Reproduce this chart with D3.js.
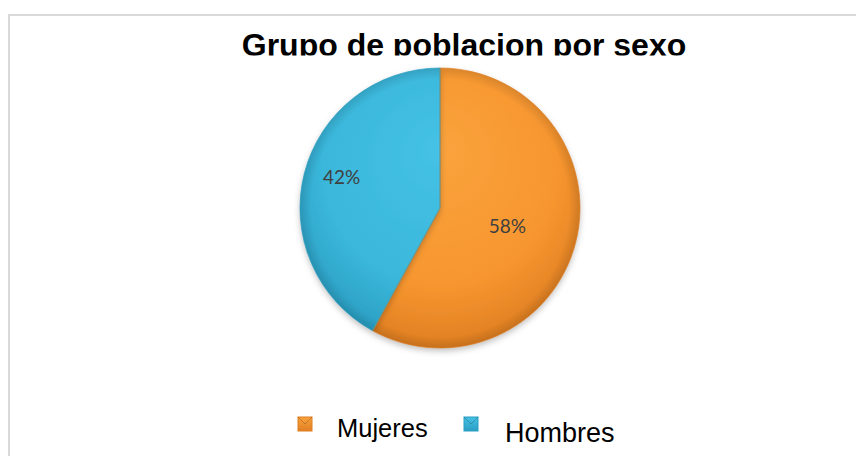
<!DOCTYPE html>
<html><head><meta charset="utf-8">
<script src="https://cdn.jsdelivr.net/npm/d3@7"></script>
<style>html,body{margin:0;padding:0;background:#fff;}svg{display:block;}</style>
</head><body>
<svg id="c" width="856" height="456"></svg>
<script>
const categories = ["Mujeres", "Hombres"];
const values = [58, 42];
const labels = ["58%", "42%"];
const colorsMain = ["#F7962F", "#3AB7DB"];
const colorsDark = ["#E07F22", "#2A9EC2"];
const colorsLight = ["#FAA33D", "#45C2E6"];
const title = "Grupo de poblacion por sexo";

const svg = d3.select("#c");
const W = 856, H = 456;
const defs = svg.append("defs");

svg.append("path").attr("d", "M9,456 L9,15 L856,15").attr("fill", "none")
  .attr("stroke", "#d9d9d9").attr("stroke-width", 2);

defs.append("clipPath").attr("id", "tclip").append("rect")
  .attr("x", 0).attr("y", 0).attr("width", W).attr("height", 55.5);
svg.append("text").attr("clip-path", "url(#tclip)")
  .attr("x", 464).attr("y", 56).attr("text-anchor", "middle")
  .attr("font-family", "Liberation Sans, Arial, sans-serif").attr("font-weight", "bold")
  .attr("font-size", 32).attr("fill", "#000").text(title);

const cx = 440, cy = 208, r = 140;
const pie = d3.pie().sort(null).value(d => d)(values);
const arc = d3.arc().innerRadius(0).outerRadius(r);

categories.forEach((c, i) => {
  const g = defs.append("radialGradient").attr("id", "g" + i)
    .attr("gradientUnits", "userSpaceOnUse").attr("cx", 0).attr("cy", -30).attr("r", r * 1.2)
    .attr("fx", 0).attr("fy", -60);
  g.append("stop").attr("offset", "0%").attr("stop-color", colorsLight[i]);
  g.append("stop").attr("offset", "70%").attr("stop-color", colorsMain[i]);
  g.append("stop").attr("offset", "100%").attr("stop-color", colorsDark[i]);
});

const eg = defs.append("radialGradient").attr("id", "edge")
  .attr("gradientUnits", "userSpaceOnUse").attr("cx", 0).attr("cy", 0).attr("r", r);
eg.append("stop").attr("offset", "92%").attr("stop-color", "#000").attr("stop-opacity", 0);
eg.append("stop").attr("offset", "100%").attr("stop-color", "#000").attr("stop-opacity", 0.12);

defs.append("filter").attr("id", "sh").attr("x", "-20%").attr("y", "-20%").attr("width", "140%").attr("height", "140%")
  .append("feDropShadow").attr("dx", 0).attr("dy", 3).attr("stdDeviation", 3).attr("flood-opacity", 0.25);

const pg = svg.append("g").attr("transform", `translate(${cx},${cy})`);
pg.selectAll("path.s").data(pie).join("path").attr("class", "s")
  .attr("d", arc).attr("fill", (d, i) => `url(#g${i})`).attr("filter", "url(#sh)");
pg.selectAll("path.e").data(pie).join("path").attr("class", "e")
  .attr("d", arc).attr("fill", "url(#edge)");
pg.selectAll("path.o").data(pie).join("path").attr("class", "o")
  .attr("d", arc).attr("fill", "none").attr("stroke", (d, i) => colorsDark[i]).attr("stroke-width", 1).attr("stroke-opacity", 0.7);

const lblArc = d3.arc().innerRadius(r * 0.6).outerRadius(r * 0.6);
const lblOff = [[-14, 4], [-17, -3]];
pg.selectAll("text.l").data(pie).join("text").attr("class", "l")
  .attr("x", (d, i) => lblArc.centroid(d)[0] + lblOff[i][0])
  .attr("y", (d, i) => lblArc.centroid(d)[1] + lblOff[i][1])
  .attr("text-anchor", "middle").attr("font-family", "Lato, 'Open Sans', sans-serif")
  .attr("font-size", 19).attr("fill", "#404040").text((d, i) => labels[i]);

const legend = [
  {x: 298, y: 417, tx: 337, ty: 437, fs: 25.5},
  {x: 464, y: 417, tx: 505, ty: 442, fs: 27}
];
categories.forEach((c, i) => {
  const L = legend[i];
  const lg = defs.append("linearGradient").attr("id", "lg" + i).attr("x1", 0).attr("y1", 0).attr("x2", 0).attr("y2", 1);
  lg.append("stop").attr("offset", "0%").attr("stop-color", colorsLight[i]);
  lg.append("stop").attr("offset", "100%").attr("stop-color", colorsDark[i]);
  svg.append("rect").attr("x", L.x).attr("y", L.y).attr("width", 14).attr("height", 14)
    .attr("fill", `url(#lg${i})`).attr("stroke", colorsDark[i]).attr("stroke-width", 1);
  svg.append("path").attr("d", `M${L.x},${L.y} L${L.x+7},${L.y+7} L${L.x+14},${L.y}`)
    .attr("fill", "none").attr("stroke", "#000").attr("stroke-opacity", 0.2).attr("stroke-width", 1);
  svg.append("text").attr("x", L.tx).attr("y", L.ty)
    .attr("font-family", "Liberation Sans, Arial, sans-serif").attr("font-size", L.fs)
    .attr("fill", "#000").text(c);
});
</script>
</body></html>
